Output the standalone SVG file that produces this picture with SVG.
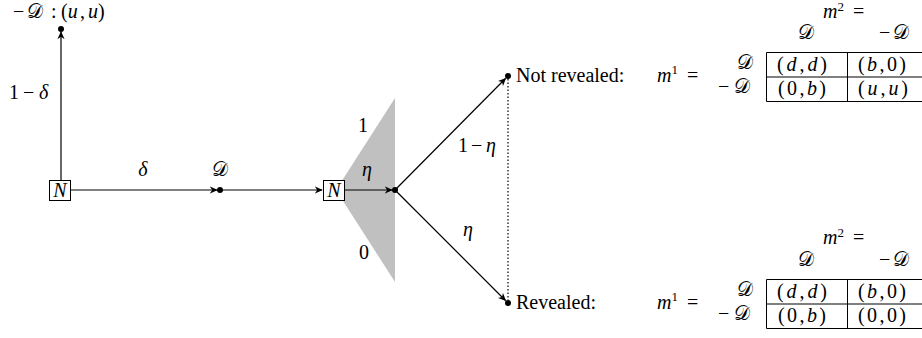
<svg xmlns="http://www.w3.org/2000/svg" width="922" height="338" viewBox="0 0 922 338">
<style>
text{font-family:"Liberation Serif","Times New Roman",serif;font-size:20px;fill:#000}
.i{font-style:italic}
.sc{font-family:"DejaVu Serif","DejaVu Sans","Noto Sans","Liberation Serif",serif;font-style:normal;font-size:20px}
.sup{font-size:13px}
.ln{stroke:#000;stroke-width:1.2;fill:none}
.box{fill:#fff;stroke:#000;stroke-width:1}
.tb{stroke:#000;stroke-width:1;fill:none}
.dot{fill:#000}
.mid{text-anchor:middle}
.end{text-anchor:end}
</style>
<defs>
<marker id="ar" viewBox="0 0 10 10" refX="9" refY="5" markerWidth="8" markerHeight="8" markerUnits="userSpaceOnUse" orient="auto">
<path d="M0,0.5 L10,5 L0,9.5 L3,5 Z" fill="#000"/>
</marker>
</defs>

<polygon points="336,190 395,98 395,282" fill="#c0c0c0"/>

<g id="connectors">
<line class="ln" x1="61" y1="180" x2="61" y2="32" marker-end="url(#ar)"/>
<line class="ln" x1="71" y1="190" x2="217" y2="190" marker-end="url(#ar)"/>
<line class="ln" x1="222" y1="190" x2="322" y2="190" marker-end="url(#ar)"/>
<line class="ln" x1="345" y1="190" x2="392" y2="190" marker-end="url(#ar)"/>
<line class="ln" x1="395" y1="190" x2="505.5" y2="78.5" marker-end="url(#ar)"/>
<line class="ln" x1="395" y1="190" x2="505.5" y2="300.5" marker-end="url(#ar)"/>
<line x1="508" y1="79" x2="508" y2="300" stroke="#000" stroke-width="1.2" stroke-dasharray="1.5,2"/>
<text x="9" y="99">1<tspan x="23">−</tspan><tspan x="39" class="i">δ</tspan></text>
<text x="143" y="176" class="i mid">δ</text>
<text x="458" y="152">1<tspan x="471">−</tspan><tspan x="486" class="i">η</tspan></text>
<text x="468" y="236" class="i mid">η</text>
<text x="363" y="132" class="mid">1</text>
<text x="367" y="176" class="i mid">η</text>
<text x="364" y="259" class="mid">0</text>
</g>

<g id="top">
<circle class="dot" cx="61" cy="29" r="3"/>
<text x="13" y="18">−<tspan x="27" class="sc">𝒟</tspan><tspan x="51">:</tspan><tspan x="61">(</tspan><tspan class="i">u</tspan><tspan x="80">,</tspan><tspan x="88" class="i">u</tspan>)</text>
</g>

<g id="n1">
<rect class="box" x="49.5" y="180.5" width="21" height="20"/>
<text x="60" y="197" class="i mid">N</text>
</g>

<g id="d1">
<circle class="dot" cx="220" cy="190" r="3"/>
<text x="220" y="176" class="sc mid">𝒟</text>
</g>

<g id="n2">
<rect class="box" x="323.5" y="180.5" width="21" height="20"/>
<text x="334" y="197" class="i mid">N</text>
</g>

<g id="c">
<circle class="dot" cx="395" cy="190" r="3"/>
</g>

<g id="notrev">
<circle class="dot" cx="508" cy="76" r="3"/>
<text x="516" y="82">Not revealed:</text>
<text x="657" y="82"><tspan class="i">m</tspan><tspan class="sup" dy="-8">1</tspan><tspan x="687" dy="8">=</tspan></text>
<text x="823" y="18"><tspan class="i">m</tspan><tspan class="sup" dy="-7">2</tspan><tspan x="853" dy="7">=</tspan></text>
<text x="806" y="39" class="sc mid">𝒟</text>
<text x="879" y="39">−<tspan x="893" class="sc">𝒟</tspan></text>
<text x="753" y="69" class="sc end">𝒟</text>
<text x="718" y="93">−<tspan x="734" class="sc">𝒟</tspan></text>
<path class="tb" d="M930,52.5 H766.5 V101.5 H930 M766.5,77 H930 M847.5,52.5 V101.5"/>
<text x="777" y="71" textLength="50">(<tspan class="i">d</tspan>,<tspan class="i">d</tspan>)</text>
<text x="858" y="71" textLength="48">(<tspan class="i">b</tspan>,0)</text>
<text x="778" y="95" textLength="48">(0,<tspan class="i">b</tspan>)</text>
<text x="858" y="95" textLength="50">(<tspan class="i">u</tspan>,<tspan class="i">u</tspan>)</text>
</g>

<g id="rev">
<circle class="dot" cx="508" cy="303" r="3"/>
<text x="516" y="309">Revealed:</text>
<text x="657" y="309"><tspan class="i">m</tspan><tspan class="sup" dy="-8">1</tspan><tspan x="687" dy="8">=</tspan></text>
<text x="823" y="244"><tspan class="i">m</tspan><tspan class="sup" dy="-7">2</tspan><tspan x="853" dy="7">=</tspan></text>
<text x="806" y="266" class="sc mid">𝒟</text>
<text x="879" y="266">−<tspan x="893" class="sc">𝒟</tspan></text>
<text x="753" y="296" class="sc end">𝒟</text>
<text x="718" y="320">−<tspan x="734" class="sc">𝒟</tspan></text>
<path class="tb" d="M930,279.5 H766.5 V328.5 H930 M766.5,304 H930 M847.5,279.5 V328.5"/>
<text x="777" y="298" textLength="50">(<tspan class="i">d</tspan>,<tspan class="i">d</tspan>)</text>
<text x="858" y="298" textLength="48">(<tspan class="i">b</tspan>,0)</text>
<text x="778" y="322" textLength="48">(0,<tspan class="i">b</tspan>)</text>
<text x="858" y="322" textLength="48">(0,0)</text>
</g>
</svg>
